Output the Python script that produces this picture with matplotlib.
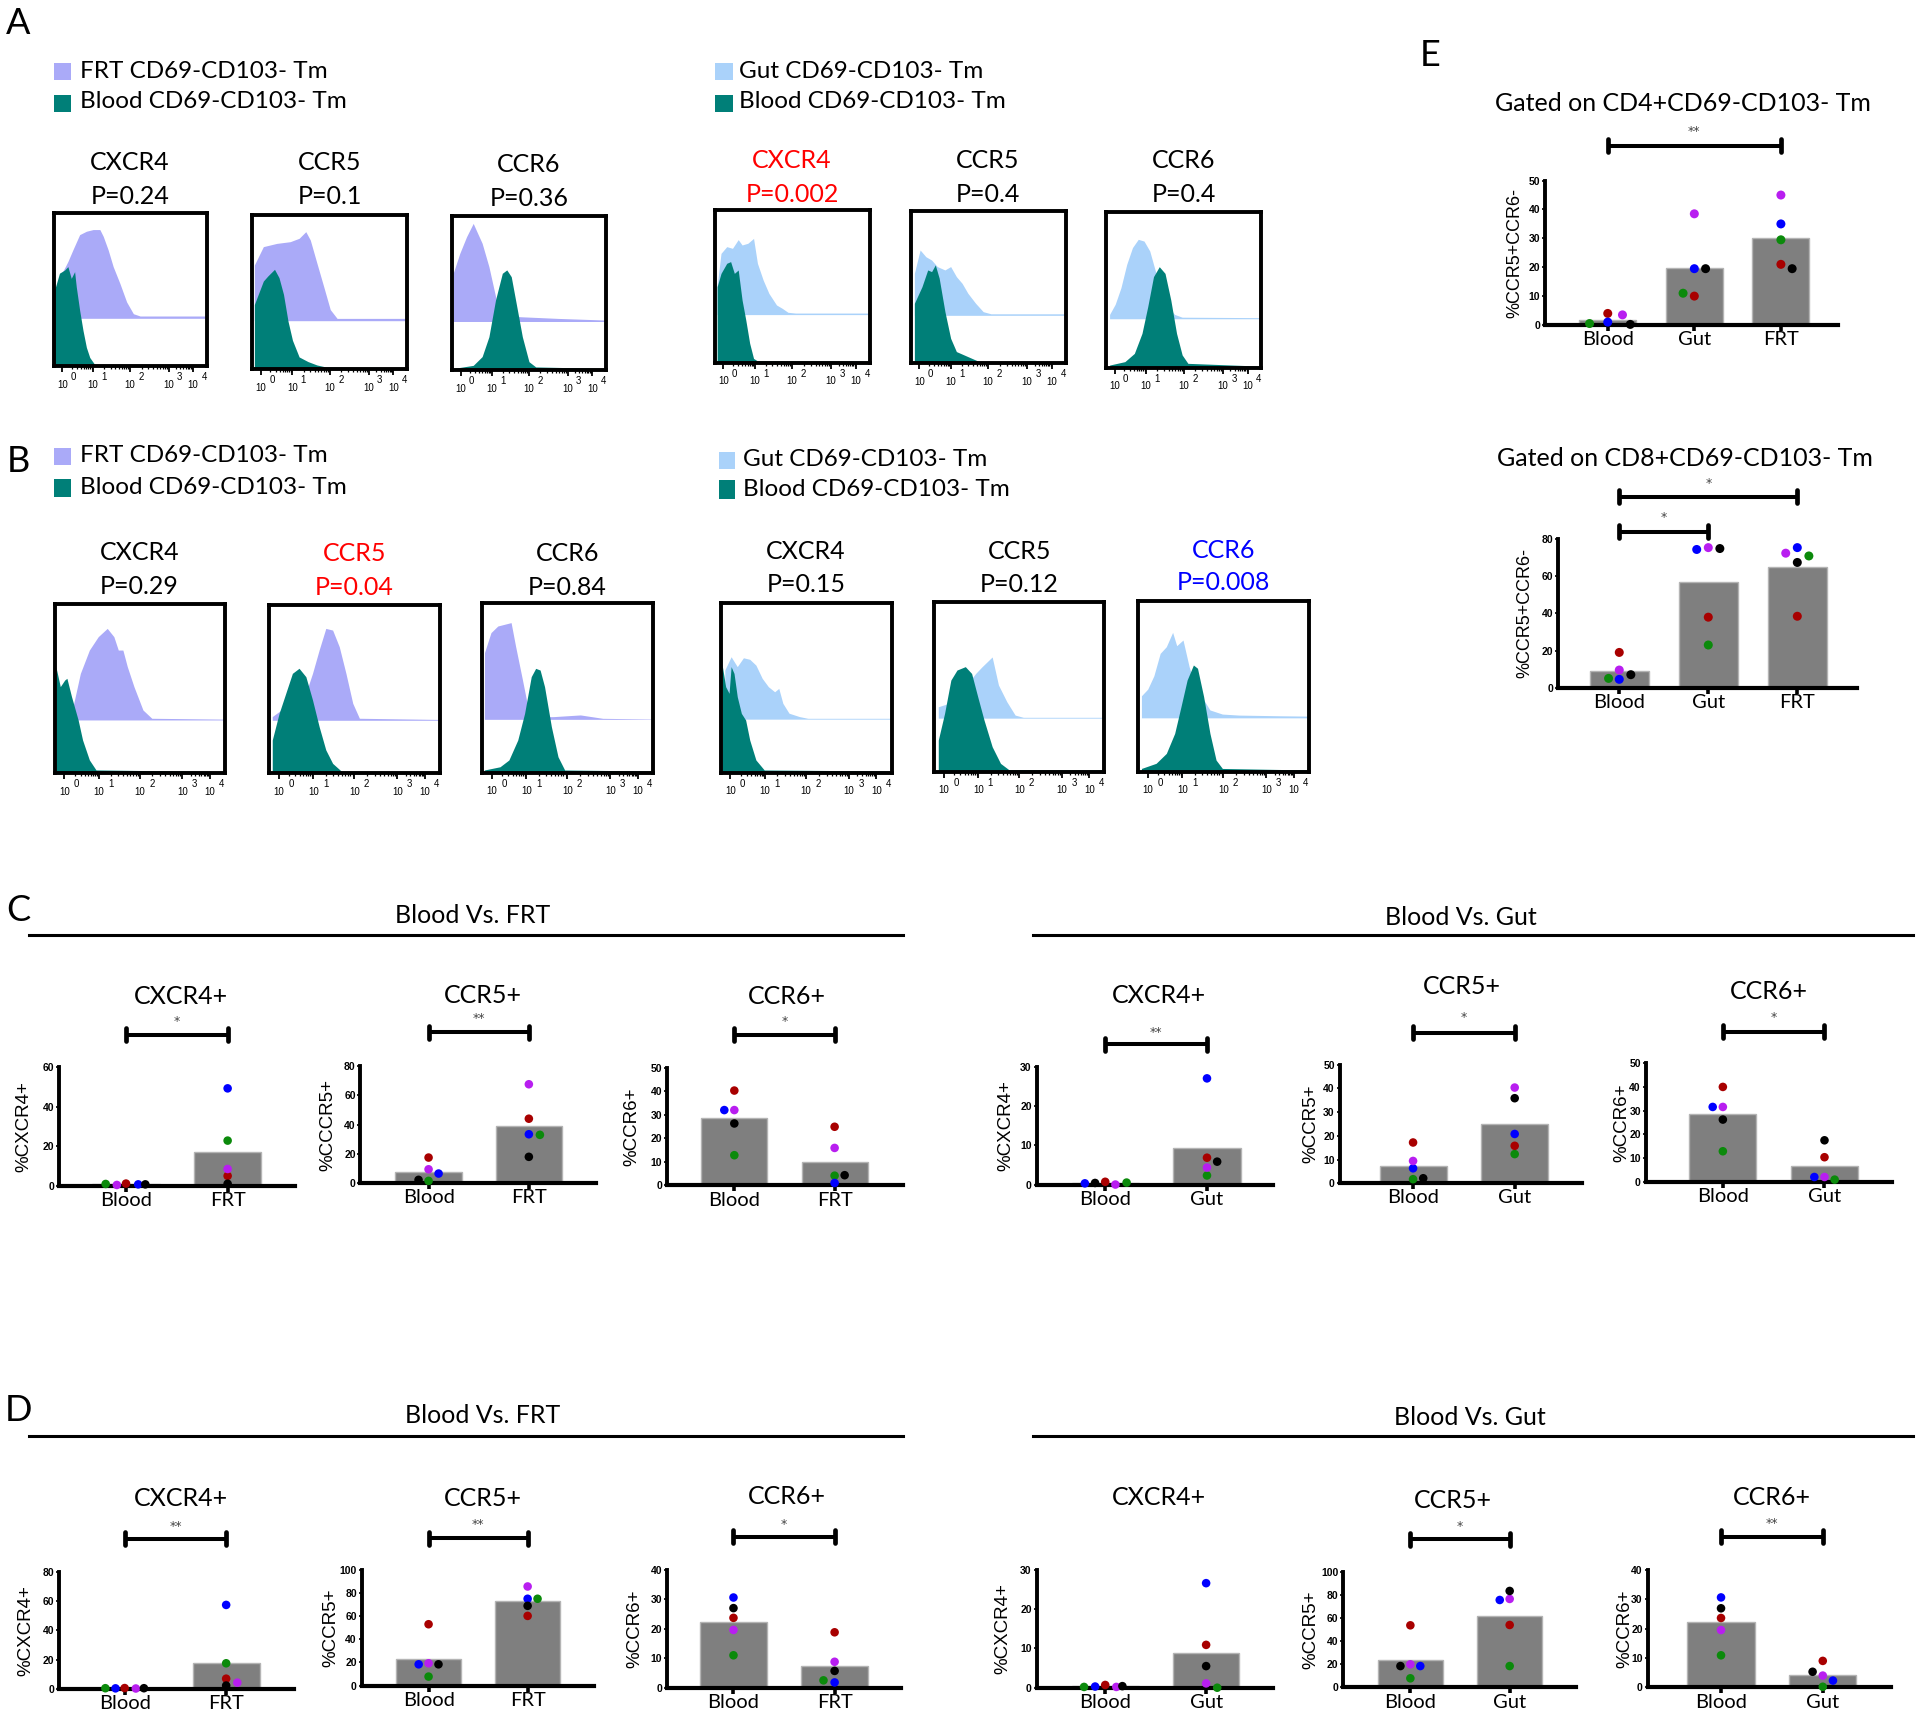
import numpy as np
import matplotlib
matplotlib.use("Agg")
import matplotlib.pyplot as plt
from matplotlib.lines import Line2D
from matplotlib.patches import Rectangle
import matplotlib.transforms as mtransforms

plt.rcParams['font.family'] = ['Lato', 'DejaVu Sans']

W, H = 1920, 1719
K = W / 1568.0

# ======================= DATA =======================
# donor order: green, red, blue, purple, black
CATS_FRT = ['Blood', 'FRT']
CATS_GUT = ['Blood', 'Gut']
CATS_E = ['Blood', 'Gut', 'FRT']

E_CD4 = {'Blood': [0.5, 4.0, 1.0, 3.5, 0.2],
         'Gut': [11.0, 10.0, 19.5, 38.5, 19.5],
         'FRT': [29.5, 21.0, 35.0, 45.0, 19.5]}
E_CD8 = {'Blood': [5.0, 19.0, 4.5, 9.5, 7.0],
         'Gut': [23.0, 38.0, 74.5, 75.5, 75.0],
         'FRT': [71.0, 38.5, 75.5, 72.5, 67.5]}

C_FRT_CXCR4 = {'Blood': [0.8, 1.0, 0.6, 0.3, 0.6], 'FRT': [22.8, 4.9, 49.3, 8.4, 0.9]}
C_FRT_CCR5 = {'Blood': [1.6, 17.5, 6.6, 9.5, 2.3], 'FRT': [33.0, 44.0, 33.4, 67.5, 18.0]}
C_FRT_CCR6 = {'Blood': [12.8, 40.3, 32.0, 32.0, 26.3], 'FRT': [4.1, 24.9, 1.0, 15.9, 4.3]}
C_GUT_CXCR4 = {'Blood': [0.6, 0.8, 0.4, 0.1, 0.5], 'Gut': [2.4, 6.9, 27.0, 4.4, 5.9]}
C_GUT_CCR5 = {'Blood': [1.7, 17.2, 6.3, 9.4, 2.1], 'Gut': [12.3, 15.8, 20.8, 40.4, 35.9]}
C_GUT_CCR6 = {'Blood': [12.9, 39.9, 31.5, 31.5, 26.2], 'Gut': [1.0, 10.4, 2.1, 2.1, 17.5]}

D_FRT_CXCR4 = {'Blood': [0.5, 0.6, 0.4, 0.3, 0.5], 'FRT': [17.5, 7.0, 57.3, 4.3, 2.3]}
D_FRT_CCR5 = {'Blood': [7.8, 53.0, 18.4, 19.3, 18.4], 'FRT': [75.0, 60.2, 75.0, 85.6, 68.9]}
D_FRT_CCR6 = {'Blood': [11.0, 23.7, 30.6, 19.6, 27.0], 'FRT': [2.5, 18.8, 1.8, 8.8, 5.7]}
D_GUT_CXCR4 = {'Blood': [0.2, 0.7, 0.3, 0.2, 0.4], 'Gut': [0.0, 10.9, 26.6, 1.1, 5.5]}
D_GUT_CCR5 = {'Blood': [7.8, 53.6, 18.4, 19.9, 18.4], 'Gut': [18.4, 53.9, 75.5, 76.4, 83.3]}
D_GUT_CCR6 = {'Blood': [10.9, 23.6, 30.6, 19.5, 26.9], 'Gut': [0.2, 9.0, 2.3, 4.0, 5.3]}

# Histogram traces: (x fraction of axis, height fraction of axis)
A_FRT_CXCR4_T = ([0.012, 0.05, 0.094, 0.127, 0.171, 0.215, 0.259, 0.303, 0.325, 0.357, 0.39, 0.434, 0.478, 0.522, 0.566, 1.0],
                 [0.48, 0.6, 0.686, 0.763, 0.862, 0.884, 0.895, 0.895, 0.851, 0.763, 0.653, 0.543, 0.422, 0.345, 0.33, 0.33])
A_FRT_CXCR4_B = ([0.007, 0.039, 0.072, 0.094, 0.116, 0.138, 0.149, 0.171, 0.193, 0.215, 0.237, 0.27, 1.0],
                 [0.5, 0.61, 0.63, 0.653, 0.576, 0.62, 0.52, 0.367, 0.235, 0.125, 0.059, 0.012, 0.01])
A_FRT_CCR5_T = ([0.014, 0.072, 0.159, 0.245, 0.303, 0.346, 0.375, 0.418, 0.461, 0.504, 0.548, 1.0],
                [0.676, 0.795, 0.816, 0.827, 0.849, 0.892, 0.838, 0.687, 0.538, 0.387, 0.33, 0.33])
A_FRT_CCR5_B = ([0.014, 0.072, 0.101, 0.144, 0.173, 0.202, 0.231, 0.26, 0.303, 0.36, 0.418, 0.476, 1.0],
                [0.42, 0.572, 0.605, 0.648, 0.594, 0.486, 0.313, 0.188, 0.08, 0.05, 0.028, 0.015, 0.01])
A_FRT_CCR6_T = ([0.009, 0.052, 0.096, 0.139, 0.168, 0.197, 0.241, 0.27, 0.299, 0.35, 0.443, 0.69, 0.98, 1.0],
                [0.628, 0.758, 0.866, 0.952, 0.887, 0.823, 0.671, 0.541, 0.411, 0.36, 0.346, 0.335, 0.325, 0.325])
A_FRT_CCR6_B = ([0.009, 0.139, 0.197, 0.241, 0.284, 0.328, 0.357, 0.386, 0.414, 0.458, 0.501, 0.545, 1.0],
                [0.01, 0.03, 0.087, 0.216, 0.455, 0.628, 0.65, 0.606, 0.455, 0.216, 0.054, 0.02, 0.01])
A_GUT_CXCR4_T = ([0.017, 0.042, 0.079, 0.116, 0.153, 0.178, 0.215, 0.252, 0.277, 0.314, 0.351, 0.4, 0.437, 0.474, 0.523, 1.0],
                 [0.502, 0.716, 0.76, 0.749, 0.806, 0.771, 0.782, 0.814, 0.651, 0.541, 0.454, 0.378, 0.356, 0.33, 0.325, 0.325])
A_GUT_CXCR4_B = ([0.017, 0.042, 0.079, 0.104, 0.128, 0.153, 0.178, 0.202, 0.227, 0.252, 0.277, 1.0],
                 [0.498, 0.585, 0.651, 0.662, 0.585, 0.607, 0.41, 0.279, 0.127, 0.028, 0.012, 0.01])
A_GUT_CCR5_T = ([0.025, 0.062, 0.099, 0.136, 0.173, 0.222, 0.259, 0.296, 0.333, 0.37, 0.42, 0.469, 0.519, 1.0],
                [0.591, 0.744, 0.7, 0.678, 0.635, 0.613, 0.635, 0.569, 0.525, 0.46, 0.394, 0.339, 0.325, 0.325])
A_GUT_CCR5_B = ([0.025, 0.074, 0.111, 0.136, 0.16, 0.185, 0.222, 0.259, 0.296, 0.37, 0.444, 1.0],
                [0.394, 0.503, 0.613, 0.602, 0.646, 0.559, 0.34, 0.164, 0.077, 0.044, 0.011, 0.01])
A_GUT_CCR6_T = ([0.025, 0.061, 0.098, 0.135, 0.172, 0.209, 0.246, 0.283, 0.319, 0.356, 0.442, 0.491, 1.0],
                [0.343, 0.408, 0.515, 0.665, 0.773, 0.826, 0.815, 0.751, 0.622, 0.451, 0.343, 0.325, 0.322])
A_GUT_CCR6_B = ([0.025, 0.123, 0.184, 0.233, 0.27, 0.307, 0.344, 0.381, 0.418, 0.455, 0.491, 0.528, 1.0],
                [0.017, 0.039, 0.092, 0.221, 0.393, 0.586, 0.65, 0.607, 0.436, 0.221, 0.082, 0.028, 0.01])

B_FRT_CXCR4_T = ([0.01, 0.1, 0.152, 0.205, 0.257, 0.31, 0.349, 0.375, 0.402, 0.428, 0.467, 0.52, 0.572, 1.0],
                 [0.33, 0.354, 0.59, 0.728, 0.807, 0.856, 0.807, 0.728, 0.728, 0.63, 0.512, 0.374, 0.325, 0.32])
B_FRT_CXCR4_B = ([0.008, 0.034, 0.06, 0.073, 0.1, 0.139, 0.165, 0.205, 0.244, 1.0],
                 [0.63, 0.512, 0.551, 0.561, 0.453, 0.315, 0.197, 0.079, 0.02, 0.01])
B_FRT_CCR5_T = ([0.018, 0.097, 0.202, 0.254, 0.293, 0.332, 0.372, 0.411, 0.45, 0.49, 0.529, 1.0],
                [0.337, 0.396, 0.436, 0.594, 0.733, 0.861, 0.851, 0.752, 0.594, 0.416, 0.327, 0.32])
B_FRT_CCR5_B = ([0.018, 0.058, 0.097, 0.136, 0.175, 0.215, 0.254, 0.293, 0.332, 0.372, 0.424, 1.0],
                [0.198, 0.356, 0.475, 0.594, 0.624, 0.574, 0.436, 0.277, 0.139, 0.059, 0.012, 0.01])
B_FRT_CCR6_T = ([0.013, 0.014, 0.052, 0.092, 0.131, 0.17, 0.196, 0.236, 0.275, 0.32, 0.419, 0.576, 0.707, 1.0],
                [0.32, 0.709, 0.827, 0.866, 0.876, 0.886, 0.748, 0.551, 0.354, 0.33, 0.331, 0.341, 0.321, 0.317])
B_FRT_CCR6_B = ([0.013, 0.105, 0.157, 0.209, 0.249, 0.288, 0.314, 0.34, 0.366, 0.406, 0.445, 0.484, 1.0],
                [0.016, 0.035, 0.075, 0.193, 0.35, 0.567, 0.616, 0.606, 0.508, 0.272, 0.094, 0.016, 0.01])
B_GUT_CXCR4_T = ([0.024, 0.061, 0.097, 0.133, 0.17, 0.206, 0.243, 0.279, 0.316, 0.34, 0.364, 0.4, 0.461, 0.51, 1.0],
                 [0.604, 0.682, 0.624, 0.676, 0.667, 0.633, 0.555, 0.506, 0.476, 0.496, 0.408, 0.35, 0.33, 0.32, 0.32])
B_GUT_CXCR4_B = ([0.007, 0.029, 0.049, 0.061, 0.078, 0.097, 0.121, 0.146, 0.17, 0.206, 0.255, 1.0],
                 [0.643, 0.506, 0.467, 0.624, 0.584, 0.447, 0.349, 0.31, 0.192, 0.075, 0.016, 0.01])
B_GUT_CCR5_T = ([0.024, 0.085, 0.183, 0.244, 0.28, 0.341, 0.378, 0.427, 0.476, 0.524, 1.0],
                [0.382, 0.402, 0.5, 0.578, 0.616, 0.675, 0.51, 0.412, 0.333, 0.32, 0.32])
B_GUT_CCR5_B = ([0.024, 0.061, 0.098, 0.134, 0.183, 0.22, 0.256, 0.293, 0.341, 0.39, 0.439, 1.0],
                [0.186, 0.343, 0.539, 0.598, 0.618, 0.578, 0.441, 0.304, 0.147, 0.049, 0.012, 0.01])
B_GUT_CCR6_T = ([0.019, 0.056, 0.092, 0.129, 0.165, 0.202, 0.226, 0.263, 0.299, 0.336, 0.421, 0.494, 0.591, 0.835, 1.0],
                [0.444, 0.483, 0.561, 0.692, 0.731, 0.815, 0.737, 0.77, 0.614, 0.497, 0.361, 0.337, 0.331, 0.327, 0.325])
B_GUT_CCR6_B = ([0.019, 0.105, 0.165, 0.214, 0.251, 0.287, 0.324, 0.348, 0.384, 0.421, 0.457, 0.494, 1.0],
                [0.019, 0.049, 0.107, 0.224, 0.38, 0.536, 0.624, 0.605, 0.439, 0.224, 0.068, 0.019, 0.01])

HIST_TICK_BASE = '10'
HIST_TICK_EXP = ['0', '1', '2', '3', '4']

# ======================= STYLE / LAYOUT =======================
DOT_COLORS = ['#0b8a0b', '#a80000', '#0000ff', '#b81ef0', '#000000']
LAVENDER = '#aaaaf8'
LIGHTBLUE = '#aad2fa'
TEAL = '#007f78'
BASE = 0.315
DEC_POS = [0.057, 0.259, 0.5, 0.752, 0.912]

# horizontal jitter of dots (fraction of category spacing), same donor order
J = {
    'E_CD4': {'Blood': [-0.21, 0, 0, 0.17, 0.26], 'Gut': [-0.13, 0, 0, 0, 0.13], 'FRT': [0, 0, 0, 0, 0.13]},
    'E_CD8': {'Blood': [-0.12, 0, 0, 0, 0.13], 'Gut': [0, 0, -0.13, 0, 0.13], 'FRT': [0.13, 0, 0, -0.13, 0]},
    'C1': {'Blood': [-0.2, 0, 0.12, -0.09, 0.19], 'FRT': [0, 0, 0, 0, 0]},
    'C2': {'Blood': [0, 0, 0.1, 0, -0.1], 'FRT': [0.11, 0, 0, 0, 0]},
    'C3': {'Blood': [0, 0, -0.1, 0, 0], 'FRT': [0, 0, 0, 0, 0.1]},
    'C4': {'Blood': [0.21, 0, -0.2, 0.1, -0.1], 'Gut': [0, 0, 0, 0, 0.1]},
    'C5': {'Blood': [0, 0, 0, 0, 0.1], 'Gut': [0, 0, 0, 0, 0]},
    'C6': {'Blood': [0, 0, -0.1, 0, 0], 'Gut': [0.1, 0, -0.1, 0, 0]},
    'D1': {'Blood': [-0.19, 0, -0.09, 0.11, 0.19], 'FRT': [0, 0, 0, 0.11, 0]},
    'D2': {'Blood': [0, 0, -0.1, 0, 0.1], 'FRT': [0.1, 0, 0, 0, 0]},
    'D3': {'Blood': [0, 0, 0, 0, 0], 'FRT': [-0.11, 0, 0, 0, 0]},
    'D4': {'Blood': [-0.21, 0, -0.1, 0.11, 0.17], 'Gut': [0.11, 0, 0, 0, 0]},
    'D5': {'Blood': [0, 0, 0.1, 0, -0.1], 'Gut': [0, 0, -0.1, 0, 0]},
    'D6': {'Blood': [0, 0, 0, 0, 0], 'Gut': [0, 0, 0.1, 0, -0.1]},
}

fig = plt.figure(figsize=(W / 100, H / 100), dpi=100)


def fx(x):
    return x / W


def fy(y):
    return 1 - y / H


def ftext(x, y, s, **kw):
    kw.setdefault('ha', 'center')
    kw.setdefault('va', 'center')
    fig.text(fx(x), fy(y), s, **kw)


# ---------------- histogram panels ----------------
def hist_panel(box, tissue, blood, tcolor, title, pval, tcol, ty1, ty2):
    x0, y0, x1, y1 = box
    h = y1 - y0
    ax = fig.add_axes([fx(x0), fy(y1), (x1 - x0) / W, h / H])
    ax.set_xlim(0, 1)
    ax.set_ylim(0, 1)
    tx, tyv = tissue
    ax.fill_between(tx, BASE, tyv, color=tcolor, lw=0, zorder=1)
    bx, byv = blood
    ax.fill_between(bx, 0, byv, color=TEAL, lw=0, zorder=2)
    for s in ax.spines.values():
        s.set_linewidth(2.8)
    ax.set_yticks([])
    minors = []
    for i in range(4):
        for m in range(2, 10):
            minors.append(DEC_POS[i] + (DEC_POS[i + 1] - DEC_POS[i]) * np.log10(m))
    ax.set_xticks(DEC_POS)
    ax.set_xticklabels([])
    ax.set_xticks(minors, minor=True)
    ax.tick_params(axis='x', which='major', length=4, width=1.3)
    ax.tick_params(axis='x', which='minor', length=2.5, width=0.9)
    for p, e in zip(DEC_POS, HIST_TICK_EXP):
        ax.text(p, -13.5 / h, HIST_TICK_BASE, transform=ax.transAxes, ha='center', va='top',
                fontsize=7, family='Liberation Sans')
        ax.text(p + 0.072, -6.0 / h, e, transform=ax.transAxes, ha='center', va='top',
                fontsize=7, family='Liberation Sans')
    cx = (x0 + x1) / 2
    ftext(cx, ty1, title, fontsize=18, color=tcol)
    ftext(cx, ty2, pval, fontsize=18, color=tcol)


# panel A (full-pixel boxes)
hist_panel((53.5, 213.5, 206.5, 366.5), A_FRT_CXCR4_T, A_FRT_CXCR4_B, LAVENDER, 'CXCR4', 'P=0.24', 'black', 162, 196)
hist_panel((252.2, 215.0, 407.1, 369.3), A_FRT_CCR5_T, A_FRT_CCR5_B, LAVENDER, 'CCR5', 'P=0.1', 'black', 163, 197)
hist_panel((451.8, 216.0, 605.8, 370.0), A_FRT_CCR6_T, A_FRT_CCR6_B, LAVENDER, 'CCR6', 'P=0.36', 'black', 164, 198)
hist_panel((714.5, 210.0, 869.5, 362.7), A_GUT_CXCR4_T, A_GUT_CXCR4_B, LIGHTBLUE, 'CXCR4', 'P=0.002', '#ff0000', 160, 194)
hist_panel((910.5, 211.0, 1065.5, 363.3), A_GUT_CCR5_T, A_GUT_CCR5_B, LIGHTBLUE, 'CCR5', 'P=0.4', 'black', 160, 194)
hist_panel((1105.7, 212.3, 1261.4, 367.7), A_GUT_CCR6_T, A_GUT_CCR6_B, LIGHTBLUE, 'CCR6', 'P=0.4', 'black', 160, 194)
# panel B
hist_panel((54.5, 604.0, 224.6, 773.3), B_FRT_CXCR4_T, B_FRT_CXCR4_B, LAVENDER, 'CXCR4', 'P=0.29', 'black', 552, 586)
hist_panel((269.2, 605.0, 439.7, 773.3), B_FRT_CCR5_T, B_FRT_CCR5_B, LAVENDER, 'CCR5', 'P=0.04', '#ff0000', 553, 587)
hist_panel((482.1, 603.3, 652.7, 772.7), B_FRT_CCR6_T, B_FRT_CCR6_B, LAVENDER, 'CCR6', 'P=0.84', 'black', 553, 587)
hist_panel((720.7, 602.7, 891.5, 772.7), B_GUT_CXCR4_T, B_GUT_CXCR4_B, LIGHTBLUE, 'CXCR4', 'P=0.15', 'black', 551, 584)
hist_panel((934.2, 601.7, 1104.2, 771.7), B_GUT_CCR5_T, B_GUT_CCR5_B, LIGHTBLUE, 'CCR5', 'P=0.12', 'black', 551, 584)
hist_panel((1138.2, 600.7, 1308.6, 771.7), B_GUT_CCR6_T, B_GUT_CCR6_B, LIGHTBLUE, 'CCR6', 'P=0.008', '#0000ff', 550, 583)


def legend(x0, x1, xt, rows, ctissue, tissue_label):
    for (ya, yb, yt), (col, lab) in zip(rows, [(ctissue, tissue_label), (TEAL, 'Blood CD69-CD103- Tm')]):
        fig.add_artist(Rectangle((fx(x0), fy(yb)), (x1 - x0) / W, (yb - ya) / H,
                                 transform=fig.transFigure, color=col, lw=0))
        fig.text(fx(xt), fy(yt), lab, fontsize=17.5, ha='left', va='center')


legend(53.6, 71.4, 79.5, [(63.3, 80, 71), (95, 111.7, 101)], LAVENDER, 'FRT CD69-CD103- Tm')
legend(715.3, 732.5, 739.4, [(63.3, 80, 71), (95, 111.7, 101)], LIGHTBLUE, 'Gut CD69-CD103- Tm')
legend(53.6, 71.4, 79.5, [(448.3, 465, 456), (479.3, 496.7, 488)], LAVENDER, 'FRT CD69-CD103- Tm')
legend(718.7, 735.2, 742.7, [(451.7, 469.3, 460), (480, 499.3, 490)], LIGHTBLUE, 'Gut CD69-CD103- Tm')


# ---------------- bar/dot panels (layout in reference 1568-wide pixels) ----------------
def bar_panel(data, cats, jit, ymax, step, title, ylabel, geo, sigs, dot_s=38, tick_fs=7.5,
              title_fs=18, ylab_fs=13.5):
    xa, p0, p1, xr, yt, yb, tx, tyy, ylx = [v * K for v in geo]
    ax = fig.add_axes([fx(xa), fy(yb), (xr - xa) / W, (yb - yt) / H])
    sp = p1 - p0
    ax.set_xlim((xa - p0) / sp, (xr - p0) / sp)
    ax.set_ylim(0, ymax)
    pos = np.arange(len(cats))
    means = [np.mean(data[c]) for c in cats]
    ax.bar(pos, means, width=0.66, color='#7f7f7f', edgecolor='#b4b4b4', lw=1.0, zorder=1)
    for i, c in enumerate(cats):
        ax.scatter(i + np.array(jit[c]), data[c], c=DOT_COLORS, s=dot_s, lw=0, zorder=3, clip_on=False)
    for side in ('top', 'right'):
        ax.spines[side].set_visible(False)
    ax.spines['left'].set_linewidth(2.8)
    ax.spines['bottom'].set_linewidth(3.0)
    ax.set_yticks(np.arange(0, ymax + 0.1, step))
    ax.set_yticklabels([str(int(v)) for v in np.arange(0, ymax + 0.1, step)],
                       fontsize=tick_fs, fontweight='bold', family='Liberation Sans')
    ax.tick_params(axis='y', length=2.5, width=1.2, pad=1)
    ax.set_xticks(pos)
    ax.set_xticklabels(cats, fontsize=14.5)
    ax.tick_params(axis='x', length=4, width=2.6, pad=0.5)
    fig.text(fx(tx), fy(tyy), title, fontsize=title_fs, ha='center', va='center')
    fig.text(fx(ylx), fy((yt + yb) / 2), ylabel, fontsize=ylab_fs, rotation=90,
             ha='center', va='center', family='Liberation Sans')
    tr = mtransforms.blended_transform_factory(ax.transData, ax.transAxes)
    h = yb - yt
    cap = 6.5 / h
    for (i, j, ysig, ystar, lab) in sigs:
        yf = (yb - ysig * K) / h
        ax.plot([i, j], [yf, yf], color='black', lw=2.9, transform=tr, clip_on=False, solid_capstyle='butt')
        for k in (i, j):
            ax.plot([k, k], [yf - cap, yf + cap], color='black', lw=3.4, transform=tr, clip_on=False,
                    solid_capstyle='round')
        ysf = (yb - ystar * K) / h
        ax.text((i + j) / 2, ysf, lab, transform=tr, ha='center', va='center', fontsize=9,
                color='#444444', family='DejaVu Sans')
    return ax


# geo: x_axis, x_cat0, x_cat1, x_right, y_top, y_bottom, title_x, title_y, ylabel_x
bar_panel(C_FRT_CXCR4, CATS_FRT, J['C1'], 60, 20, 'CXCR4+', '%CXCR4+',
          (48.4, 102.9, 185.9, 241, 871.6, 968.2, 148, 814, 19.6), [(0, 1, 845, 834, '*')])
bar_panel(C_FRT_CCR5, CATS_FRT, J['C2'], 80, 20, 'CCR5+', '%CCCR5+',
          (294.4, 350, 431.9, 486.5, 870.5, 966.3, 394, 813, 268), [(0, 1, 843, 832, '**')])
bar_panel(C_FRT_CCR6, CATS_FRT, J['C3'], 50, 10, 'CCR6+', '%CCR6+',
          (544.6, 599.7, 681.6, 737.2, 872, 968, 643, 814, 516.3), [(0, 1, 845, 834, '*')])
bar_panel(C_GUT_CXCR4, CATS_GUT, J['C4'], 30, 10, 'CXCR4+', '%CXCR4+',
          (846.5, 902.6, 985.7, 1040, 871, 967.7, 946.6, 812.6, 821.5), [(0, 1, 852.6, 843, '**')])
bar_panel(C_GUT_CCR5, CATS_GUT, J['C5'], 50, 10, 'CCR5+', '%CCR5+',
          (1094, 1154, 1237, 1292, 869.6, 966.3, 1194, 805.8, 1070.2), [(0, 1, 843.3, 830.7, '*')])
bar_panel(C_GUT_CCR6, CATS_GUT, J['C6'], 50, 10, 'CCR6+', '%CCR6+',
          (1344, 1407, 1490, 1545, 868, 965.3, 1444.5, 809.9, 1324.4), [(0, 1, 842.5, 830.7, '*')])

bar_panel(D_FRT_CXCR4, CATS_FRT, J['D1'], 80, 20, 'CXCR4+', '%CXCR4+',
          (48.2, 101.8, 184.7, 239.8, 1283.5, 1379.3, 148, 1223.6, 20.8), [(0, 1, 1256.8, 1246.8, '**')])
bar_panel(D_FRT_CCR5, CATS_FRT, J['D2'], 100, 20, 'CCR5+', '%CCR5+',
          (295.4, 350, 430.9, 485, 1282, 1376.6, 394, 1223.6, 270.5), [(0, 1, 1256.3, 1245.4, '**')])
bar_panel(D_FRT_CCR6, CATS_FRT, J['D3'], 40, 10, 'CCR6+', '%CCR6+',
          (544.6, 599, 681.6, 736, 1282, 1378.3, 643, 1222.5, 518.7), [(0, 1, 1255, 1244.6, '*')])
bar_panel(D_GUT_CXCR4, CATS_GUT, J['D4'], 30, 10, 'CXCR4+', '%CXCR4+',
          (846.5, 902.6, 985, 1040, 1282, 1378.3, 946.6, 1222.8, 819), [])
bar_panel(D_GUT_CCR5, CATS_GUT, J['D5'], 100, 20, 'CCR5+', '%CCR5+',
          (1096.8, 1151.8, 1232.9, 1287, 1283.5, 1378, 1186.8, 1225, 1070.2), [(0, 1, 1257, 1246.3, '*')])
bar_panel(D_GUT_CCR6, CATS_GUT, J['D6'], 40, 10, 'CCR6+', '%CCR6+',
          (1345.5, 1405.5, 1488.6, 1544.6, 1282, 1378, 1447, 1222.8, 1327), [(0, 1, 1255, 1244, '**')])

bar_panel(E_CD4, CATS_E, J['E_CD4'], 50, 10, 'Gated on CD4+CD69-CD103- Tm', '%CCR5+CCR6-',
          (1261.7, 1313, 1383.7, 1501, 147.5, 265.4, 1374, 84.4, 1237.3),
          [(0, 2, 119.2, 107.5, '**')], dot_s=42, tick_fs=7.5, ylab_fs=13)
bar_panel(E_CD8, CATS_E, J['E_CD8'], 80, 20, 'Gated on CD8+CD69-CD103- Tm', '%CCR5+CCR6-',
          (1272.6, 1322.4, 1395.1, 1516.3, 440.4, 561.6, 1376, 374.3, 1245.4),
          [(0, 2, 405.6, 394.7, '*'), (0, 1, 434.2, 422.8, '*')], dot_s=42, tick_fs=7.5, ylab_fs=13)

# ---------------- section headers ----------------
for (txt, x, y) in [('Blood Vs. FRT', 473, 915), ('Blood Vs. Gut', 1461, 917),
                    ('Blood Vs. FRT', 483, 1415), ('Blood Vs. Gut', 1470, 1417)]:
    ftext(x, y, txt, fontsize=18)
for (xa_, xb_, y) in [(29, 903, 935), (1033, 1913, 935), (29, 903, 1436), (1033, 1913, 1436)]:
    fig.add_artist(Line2D([fx(xa_), fx(xb_)], [fy(y), fy(y)], transform=fig.transFigure,
                          color='black', lw=2.2))

# panel letters
for (l, x, y) in [('A', 18, 24), ('B', 18, 462), ('C', 18, 910), ('D', 18, 1410), ('E', 1430, 56)]:
    ftext(x, y, l, fontsize=26)

fig.savefig('out.png', dpi=100)
